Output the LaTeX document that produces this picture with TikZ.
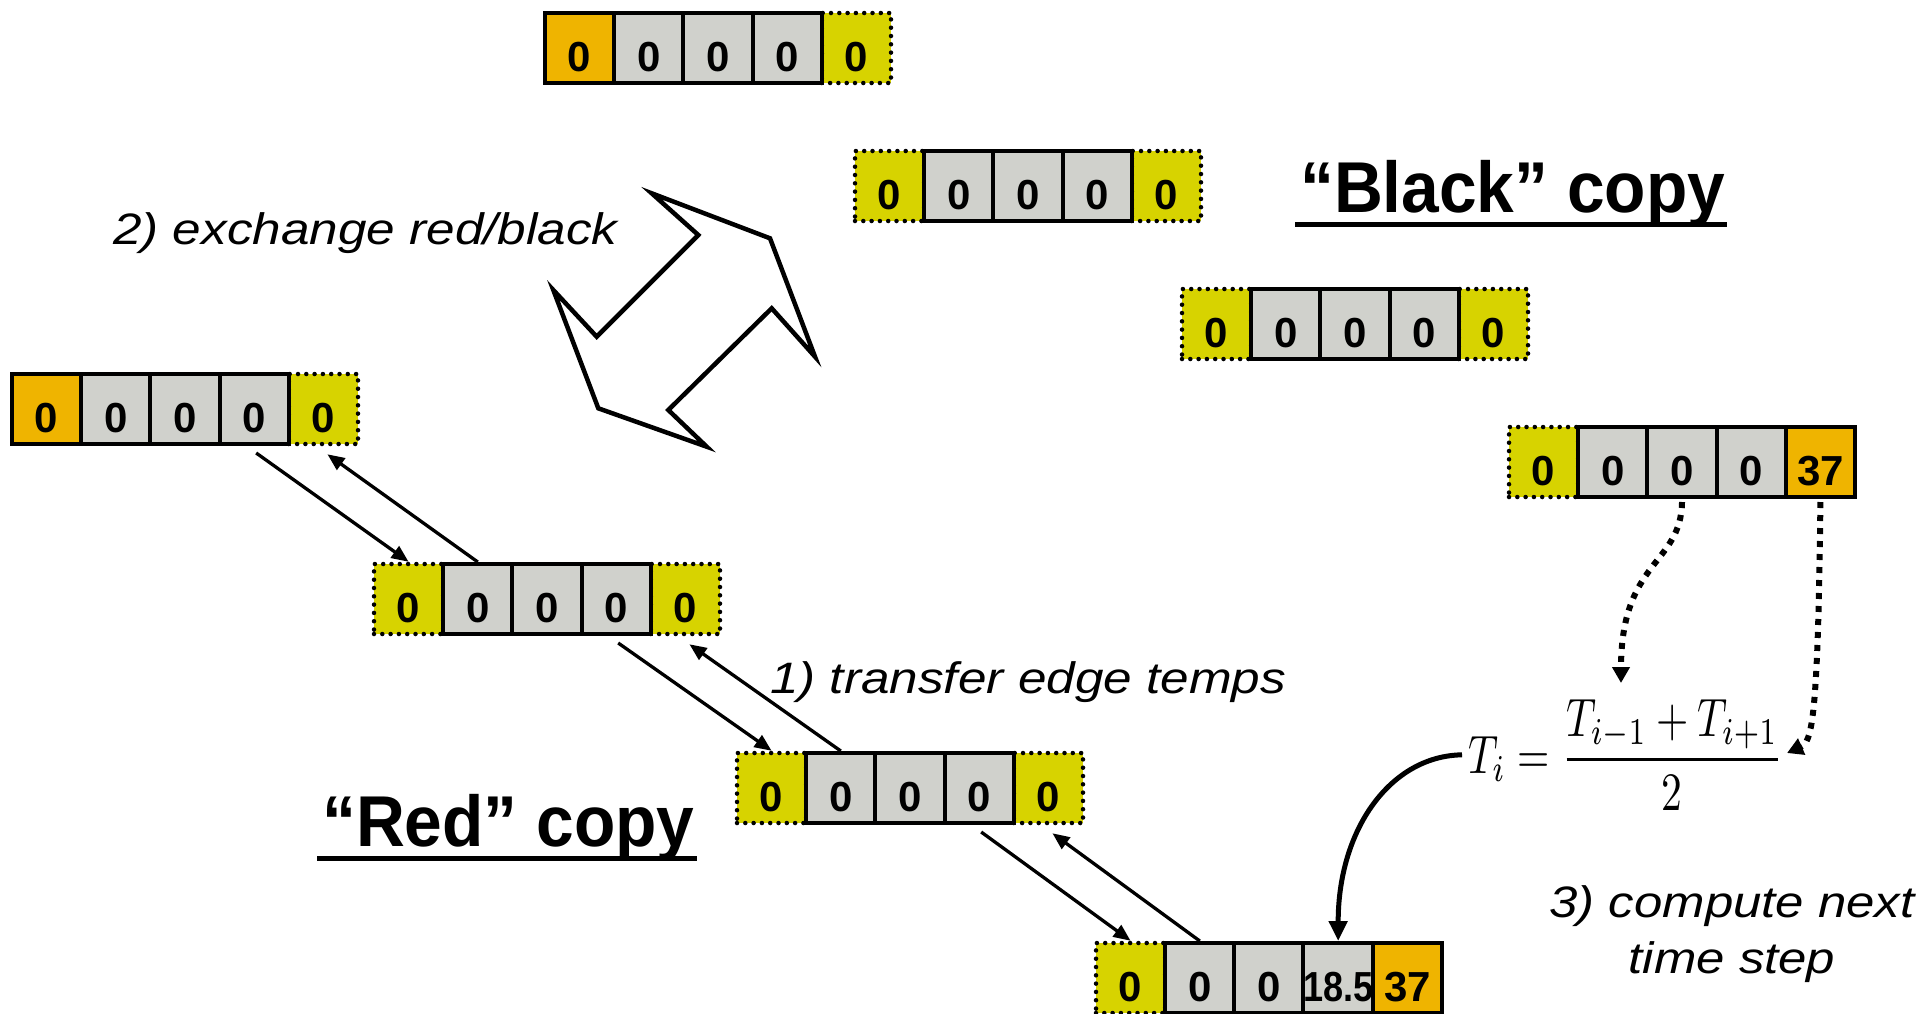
\documentclass[tikz,border=0pt]{standalone}
\usepackage{fontspec}
\setmainfont{Liberation Sans}
\usetikzlibrary{calc,arrows.meta}

\definecolor{hotcell}{HTML}{EFB400}
\definecolor{halocell}{HTML}{D7D300}
\definecolor{gridcell}{HTML}{D0D1CC}

\tikzset{
  cellbase/.style={minimum width=69.2pt, minimum height=70pt, inner sep=0pt,
    text height=46pt, text depth=0pt, font=\fontsize{42}{42}\selectfont\bfseries},
  cellhalo/.style={cellbase, fill=halocell, draw=black, line width=4.5pt,
    line cap=round, dash pattern=on 0pt off 8.3pt},
  cellsolid/.style={cellbase, draw=black, line width=4pt},
  xfer/.style={line width=3.3pt, -{Triangle[length=17pt,width=14pt]}},
  dotarrow/.style={line width=6pt, dash pattern=on 6pt off 7pt,
    -{Triangle[length=16pt,width=17pt]}},
  bentarrow/.style={line width=5pt, -{Triangle[length=20pt,width=18pt]}},
  steplabel/.style={inner sep=0pt, font=\fontsize{44}{56}\selectfont\itshape},
  copytitle/.style={inner sep=0pt, font=\fontsize{72}{76}\selectfont\bfseries},
  uline/.style={line width=5pt},
  swapshape/.style={line width=4.5pt, line join=miter}
}

% one temperature array: name prefix, top-left corner, halo cells, interior cells
\newcommand\cellrow[4]{%
  \foreach \k/\t in {#3}
    \node[cellhalo] (#1c\k) at ($(#2)+({\k*69.2-34.6},35)$) {\t};
  \foreach \k/\s/\t in {#4}
    \node[cellsolid, fill=\s] (#1c\k) at ($(#2)+({\k*69.2-34.6},35)$) {\t};
}
\newcommand\midvalue{\scalebox{0.86}[1]{18.5}}

\begin{document}
\begin{tikzpicture}[x=1pt,y=-1pt]
\fill[white] (0,0) rectangle (1929,1013);
\useasboundingbox (0,0) rectangle (1929,1013);

% "black" copies
\cellrow{b1}{545,13}{5/0}{1/hotcell/0,2/gridcell/0,3/gridcell/0,4/gridcell/0}
\cellrow{b2}{855,151}{1/0,5/0}{2/gridcell/0,3/gridcell/0,4/gridcell/0}
\cellrow{b3}{1182,289}{1/0,5/0}{2/gridcell/0,3/gridcell/0,4/gridcell/0}
\cellrow{b4}{1509,427}{1/0}{2/gridcell/0,3/gridcell/0,4/gridcell/0,5/hotcell/37}

% "red" copies
\cellrow{r1}{12,374}{5/0}{1/hotcell/0,2/gridcell/0,3/gridcell/0,4/gridcell/0}
\cellrow{r2}{374,564}{1/0,5/0}{2/gridcell/0,3/gridcell/0,4/gridcell/0}
\cellrow{r3}{737,753}{1/0,5/0}{2/gridcell/0,3/gridcell/0,4/gridcell/0}
\cellrow{r4}{1096,943}{1/0}{2/gridcell/0,3/gridcell/0,4/gridcell/\midvalue,5/hotcell/37}

% edge transfers between neighbouring red arrays
\draw[xfer] ($(r1c4.south)+(2,7)$) -- (r2c1.north);
\draw[xfer] (r2c2.north) -- ($(r1c5.south)+(4,8)$);
\draw[xfer] ($(r2c4.south)+(2,7)$) -- (r3c1.north);
\draw[xfer] (r3c2.north) -- ($(r2c5.south)+(4,8)$);
\draw[xfer] ($(r3c4.south)+(2,7)$) -- (r4c1.north);
\draw[xfer] (r4c2.north) -- ($(r3c5.south)+(4,8)$);

% exchange symbol
\draw[swapshape] (651.7,193.3) -- (770,238.3) -- (815,356.7) -- (771.7,308.3)
  -- (668.3,410) -- (706.7,446.7) -- (598.3,408.3) -- (553.3,290)
  -- (596.7,336.7) -- (698.3,235) -- cycle;

% step labels
\node[steplabel, anchor=base west] (exlabel) at (113,244)
  {\scalebox{1.165}[1]{2) exchange red/black}};
\node[steplabel, anchor=base west] (xferlabel) at (770,693)
  {\scalebox{1.165}[1]{1) transfer edge temps}};
\node[steplabel, anchor=base] (steplbl) at (1732,917)
  {\scalebox{1.157}[1]{\begin{tabular}[t]{@{}c@{}}3) compute next\\time step\end{tabular}}};

% titles
\node[copytitle, anchor=base west] (blk) at (1300,212) {\scalebox{0.94}[1]{“Black” copy}};
\draw[uline] ($(blk.base west)+(-5,12)$) -- ($(blk.base east)+(2,12)$);
\node[copytitle, anchor=base west] (red) at (322,846) {\scalebox{0.94}[1]{“Red” copy}};
\draw[uline] ($(red.base west)+(-5,12)$) -- ($(red.base east)+(2,12)$);

% update rule
\node[anchor=base west, inner sep=0pt, font=\fontsize{10}{12}\selectfont] (rule) at (1468,773)
  {\scalebox{4.15}[5.4]{$T_i = \displaystyle\frac{T_{i-1}+T_{i+1}}{2}$}};
\coordinate (numtop) at (1621,683);
\coordinate (numend) at (1787,753);
\draw[dotarrow] ($(b4c3.south)+(0,3)$) .. controls (1681,565) and (1621,560) .. (numtop);
\draw[dotarrow] ($(b4c5.south)+(0,3)$) .. controls (1818,720) and (1812,742) .. (numend);
\draw[bentarrow] ($(rule.west)+(-6,0)$) .. controls (1390,756) and (1338,830) .. (r4c4.north);
\end{tikzpicture}
\end{document}
